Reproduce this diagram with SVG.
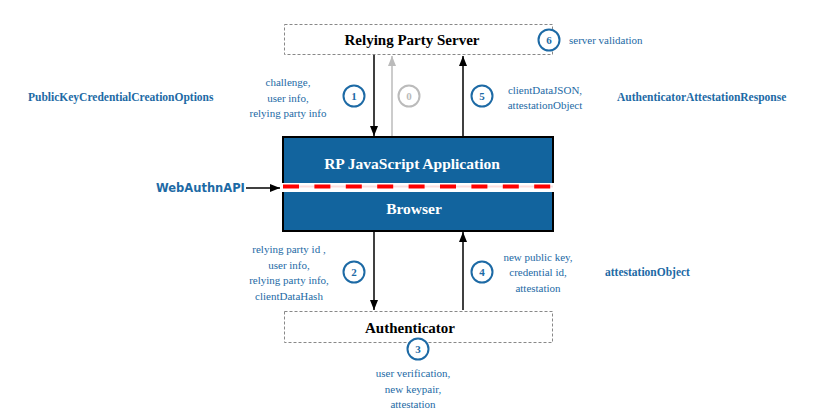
<svg xmlns="http://www.w3.org/2000/svg" width="819" height="420" viewBox="0 0 819 420">
<style>
.lbl{font-family:'Liberation Serif','Times New Roman',Times,serif;font-size:11px;fill:#1d6aa5;text-anchor:middle}
.big{font-family:'Liberation Serif','Times New Roman',Times,serif;font-size:11.5px;font-weight:bold;fill:#1d6aa5}
.node{font-family:'Liberation Serif','Times New Roman',Times,serif;font-size:15px;font-weight:bold;fill:#000;text-anchor:middle}
.wnode{font-family:'Liberation Serif','Times New Roman',Times,serif;font-size:15.5px;font-weight:bold;fill:#fff;text-anchor:middle}
.dbox{fill:#fff;stroke:#888;stroke-width:1;stroke-dasharray:3,2}
.circ{fill:#fff;stroke:#1d6aa5;stroke-width:2}
.num{font-family:'Liberation Serif','Times New Roman',Times,serif;font-size:11px;font-weight:bold;fill:#1d6aa5;text-anchor:middle}
.arr{stroke:#000;stroke-width:1.5;fill:none}
</style>
<defs>
<marker id="ah" viewBox="0 0 10 10" refX="10" refY="5" markerWidth="10" markerHeight="10" markerUnits="userSpaceOnUse" orient="auto">
<path d="M0,1 L10,5 L0,9 Z" fill="#000"/>
</marker>
<marker id="ahg" viewBox="0 0 10 10" refX="10" refY="5" markerWidth="10" markerHeight="10" markerUnits="userSpaceOnUse" orient="auto">
<path d="M0,1 L10,5 L0,9 Z" fill="#bbb"/>
</marker>
</defs>
<rect width="819" height="420" fill="#fff"/>

<g id="server">
<rect class="dbox" x="284.5" y="24.5" width="268" height="30"/>
<text class="node" x="412" y="45">Relying Party Server</text>
</g>

<g id="browser">
<rect x="283" y="137" width="270" height="94" fill="#12649e" stroke="#000" stroke-width="2"/>
<rect x="282" y="183" width="272" height="9" fill="#fff"/>
<line x1="283" y1="186.5" x2="553" y2="186.5" stroke="#fbdede" stroke-width="2"/>
<line x1="283" y1="186.5" x2="553" y2="186.5" stroke="#f00" stroke-width="4" stroke-dasharray="16,15.4"/>
<text class="wnode" x="412" y="168.5">RP JavaScript Application</text>
<text class="wnode" x="414" y="214">Browser</text>
</g>

<g id="authenticator">
<rect class="dbox" x="284.5" y="311.5" width="268" height="31"/>
<text class="node" x="410" y="333">Authenticator</text>
</g>

<g id="connectors">
<line class="arr" x1="374" y1="55" x2="374" y2="136" marker-end="url(#ah)"/>
<line x1="392" y1="136" x2="392" y2="56" stroke="#bbb" stroke-width="1.5" marker-end="url(#ahg)"/>
<line class="arr" x1="463" y1="136" x2="463" y2="56" marker-end="url(#ah)"/>
<line class="arr" x1="374" y1="232" x2="374" y2="310" marker-end="url(#ah)"/>
<line class="arr" x1="463" y1="310" x2="463" y2="232" marker-end="url(#ah)"/>
<line class="arr" x1="246" y1="188" x2="280" y2="188" marker-end="url(#ah)"/>
</g>

<g id="steps">
<circle class="circ" cx="354" cy="96" r="10.5"/>
<text class="num" x="354" y="100">1</text>
<circle cx="409" cy="96" r="10.5" fill="#fff" stroke="#bbb" stroke-width="2"/>
<text class="num" x="409" y="100" style="fill:#bbb">0</text>
<circle class="circ" cx="482" cy="96" r="10.5"/>
<text class="num" x="482" y="100">5</text>
<circle class="circ" cx="549" cy="40" r="10.5"/>
<text class="num" x="549" y="44">6</text>
<circle class="circ" cx="354" cy="272" r="10.5"/>
<text class="num" x="354" y="276">2</text>
<circle class="circ" cx="482" cy="272" r="10.5"/>
<text class="num" x="482" y="276">4</text>
<circle class="circ" cx="418" cy="349" r="10.5"/>
<text class="num" x="418" y="353">3</text>
</g>

<g id="labels">
<text class="lbl" x="569" y="44" style="text-anchor:start">server validation</text>
<text class="lbl" x="288" y="86">challenge,</text>
<text class="lbl" x="288" y="101.5">user info,</text>
<text class="lbl" x="288" y="117">relying party info</text>
<text class="lbl" x="545" y="94">clientDataJSON,</text>
<text class="lbl" x="545" y="109">attestationObject</text>
<text class="lbl" x="289" y="253">relying party id ,</text>
<text class="lbl" x="289" y="268.5">user info,</text>
<text class="lbl" x="289" y="284">relying party info,</text>
<text class="lbl" x="289" y="300">clientDataHash</text>
<text class="lbl" x="538" y="261">new public key,</text>
<text class="lbl" x="538" y="276">credential id,</text>
<text class="lbl" x="538" y="292">attestation</text>
<text class="lbl" x="413" y="377">user verification,</text>
<text class="lbl" x="413" y="393">new keypair,</text>
<text class="lbl" x="413" y="408">attestation</text>
<text class="big" x="28" y="101">PublicKeyCredentialCreationOptions</text>
<text class="big" x="617" y="101">AuthenticatorAttestationResponse</text>
<text class="big" x="605" y="276">attestationObject</text>
<text x="156" y="192" style="font-family:'DejaVu Sans',sans-serif;font-size:11.5px;font-weight:bold;fill:#1d6aa5">WebAuthnAPI</text>
</g>
</svg>
